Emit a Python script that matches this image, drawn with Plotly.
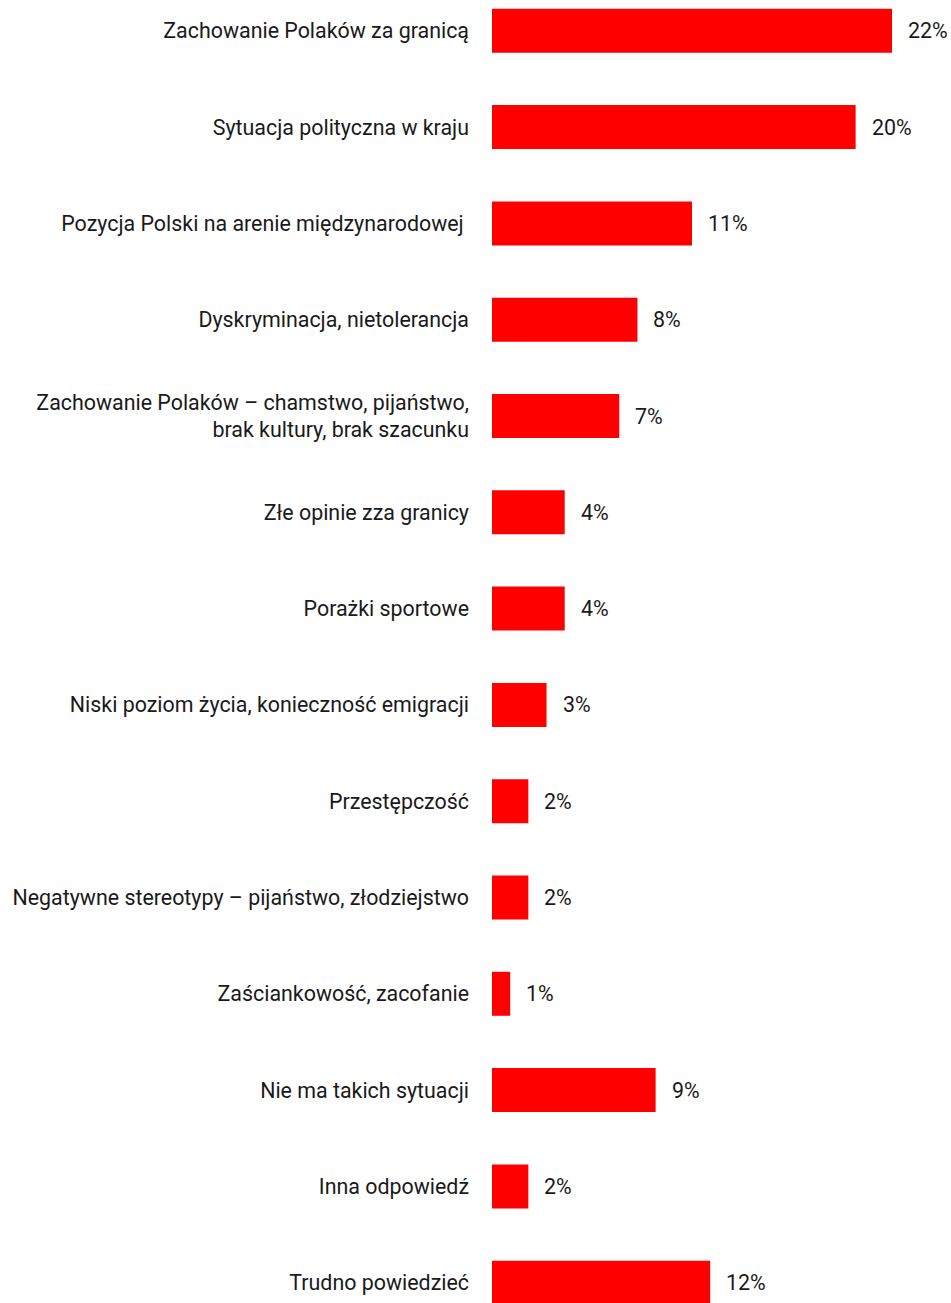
import plotly.graph_objects as go

categories = [
    "Zachowanie Polaków za granicą",
    "Sytuacja polityczna w kraju",
    "Pozycja Polski na arenie międzynarodowej ",
    "Dyskryminacja, nietolerancja",
    "Zachowanie Polaków – chamstwo, pijaństwo,<br>brak kultury, brak szacunku",
    "Złe opinie zza granicy",
    "Porażki sportowe",
    "Niski poziom życia, konieczność emigracji",
    "Przestępczość",
    "Negatywne stereotypy – pijaństwo, złodziejstwo",
    "Zaściankowość, zacofanie",
    "Nie ma takich sytuacji",
    "Inna odpowiedź",
    "Trudno powiedzieć",
]
values = [22, 20, 11, 8, 7, 4, 4, 3, 2, 2, 1, 9, 2, 12]
value_labels = [f"{v}%" for v in values]

FONT = "Roboto"
TEXT_COLOR = "#1a1a1a"
FS = 21.4

fig = go.Figure()
fig.add_trace(go.Bar(
    x=values,
    y=categories,
    orientation="h",
    marker=dict(color="#ff0000", line=dict(width=0)),
    width=0.457,
    hoverinfo="skip",
))

for c, v, t in zip(categories, values, value_labels):
    fig.add_annotation(
        x=v, y=c, text=t, showarrow=False,
        xanchor="left", xshift=14,
        font=dict(family=FONT, size=FS, color=TEXT_COLOR),
    )

px_per_unit = 400 / 22.0
W, H = 951, 1303
left = 492
plot_w = W - left
row = 96.3
first_center = 30.8
fig.update_layout(
    width=W, height=H,
    margin=dict(l=left, r=0, t=0, b=0),
    plot_bgcolor="white", paper_bgcolor="white",
    showlegend=False,
    font=dict(family=FONT, size=FS, color=TEXT_COLOR),
    xaxis=dict(range=[0, plot_w / px_per_unit], visible=False, fixedrange=True),
    yaxis=dict(
        type="category",
        range=[(H - first_center) / row, -first_center / row],
        showgrid=False, zeroline=False, showline=False,
        ticks="", ticklabelstandoff=22,
        tickfont=dict(family=FONT, size=FS, color=TEXT_COLOR),
        fixedrange=True,
    ),
)

fig.write_html(
    "out.html",
    config={"displayModeBar": False},
    post_script="document.body.style.margin='0';document.body.style.overflow='hidden';",
)
